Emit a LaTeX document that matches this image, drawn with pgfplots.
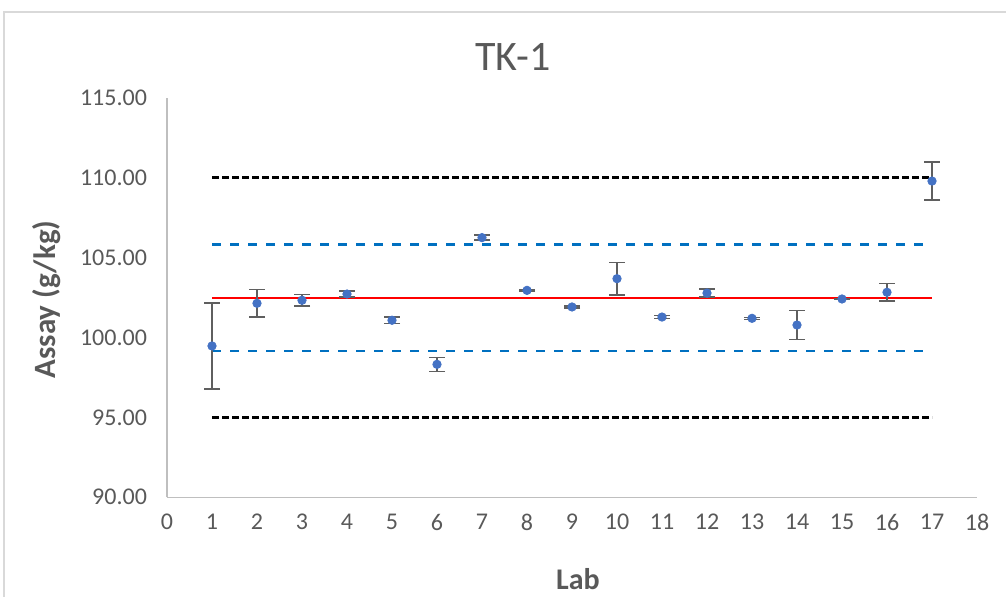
\documentclass[border=0pt]{standalone}
\usepackage{fontspec}
\setmainfont{Carlito}
\usepackage{pgfplots}
\pgfplotsset{compat=1.18}
\definecolor{txt}{HTML}{595959}
\definecolor{axc}{HTML}{BFBFBF}
\definecolor{frame}{HTML}{D9D9D9}
\definecolor{mk}{HTML}{4472C4}
\definecolor{bl}{HTML}{0070C0}
\definecolor{eb}{HTML}{5F5F5F}

% lab, mean, half-width of error bar
\pgfplotstableread{
x y e
1 99.47 2.69
2 102.14 0.85
3 102.33 0.35
4 102.72 0.18
5 101.08 0.20
6 98.32 0.44
7 106.25 0.16
8 102.95 0.05
9 101.91 0.07
10 103.68 1.02
11 101.28 0.10
12 102.78 0.26
13 101.20 0.06
14 100.78 0.92
15 102.41 0.04
16 102.83 0.56
17 109.79 1.19
}\labdata

\begin{document}
\begin{tikzpicture}
\path[use as bounding box] (0,0) rectangle (503pt,-298.5pt);
\draw[frame, line width=0.75pt] (2pt,-298.5pt) -- (2pt,-6pt) -- (503pt,-6pt);
\begin{axis}[
  at={(83.5pt,-248.65pt)}, anchor=south west,
  scale only axis, width=405pt, height=199.75pt,
  xmin=0, xmax=18, ymin=90, ymax=115,
  xtick={0,...,18}, ytick={90,95,...,115},
  axis x line=bottom, axis y line=left,
  axis line style={-, draw=axc, line width=0.75pt},
  major tick length=0pt,
  /pgf/number format/assume math mode=true,
  ticklabel style={color=txt, font=\fontsize{12}{14}\selectfont},
  yticklabel style={/pgf/number format/fixed, /pgf/number format/fixed zerofill,
    /pgf/number format/precision=2, xshift=-6.5pt},
  xticklabel style={yshift=-5pt},
  clip=false,
]
\addplot[black, line width=1.2pt, dash pattern=on 3.3pt off 1.7pt] coordinates {(1,110) (17,110)};
\addplot[black, line width=1.2pt, dash pattern=on 3.3pt off 1.7pt] coordinates {(1,95) (17,95)};
\addplot[bl, line width=1.25pt, dash pattern=on 4.5pt off 4.5pt] coordinates {(1,105.81) (17,105.81)};
\addplot[bl, line width=1.25pt, dash pattern=on 4.5pt off 4.5pt] coordinates {(1,99.14) (17,99.14)};
\addplot[red, line width=1.2pt] coordinates {(1,102.48) (17,102.48)};
\addplot[only marks, mark=*, mark size=2.1pt, mark options={fill=mk, draw=mk},
  error bars/.cd, y dir=both, y explicit,
  error bar style={eb, line width=0.75pt},
  error mark options={eb, rotate=90, mark size=4pt, line width=0.75pt}]
  table[x=x, y=y, y error=e] {\labdata};
\end{axis}
\node[txt, font=\fontsize{21}{25}\selectfont] at (256.5pt,-28.5pt) {TK-1};
\node[txt, font=\fontsize{15}{18}\bfseries] at (289pt,-289.5pt) {Lab};
\node[txt, font=\fontsize{15.5}{18}\bfseries, rotate=90] at (23.25pt,-149.75pt) {Assay (g/kg)};
\end{tikzpicture}
\end{document}
